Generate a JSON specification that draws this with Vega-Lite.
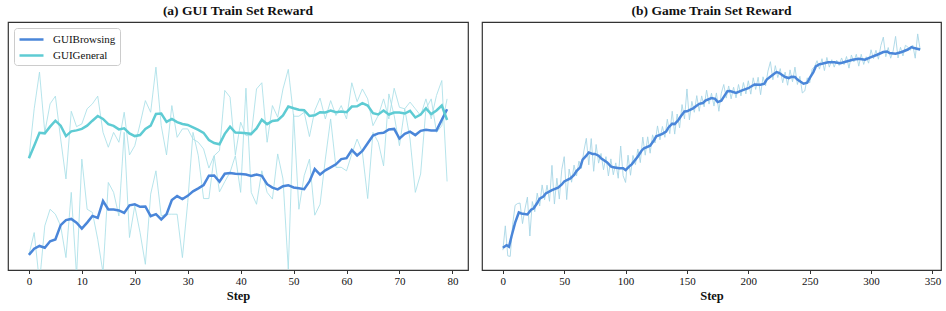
{
"$schema": "https://vega.github.io/schema/vega-lite/v6.json",
"padding": {"left": 7, "top": 2, "right": 8, "bottom": 0},
"spacing": 12,
"config": {
  "font": "Liberation Serif",
  "view": {"stroke": "#333333", "strokeWidth": 1.2},
  "axis": {"labelFont": "Liberation Serif", "labelFontSize": 11, "labelColor": "#111111", "tickColor": "#333333", "tickSize": 3.5, "domain": false, "grid": false, "labelPadding": 2, "titleFont": "Liberation Serif", "titleFontSize": 12.5, "titleFontWeight": "bold", "titleColor": "#111111", "titlePadding": 3},
  "title": {"font": "Liberation Serif", "fontSize": 13.5, "fontWeight": "bold", "color": "#111111", "offset": 5},
  "legend": {"labelFont": "Liberation Serif", "labelFontSize": 11, "labelColor": "#111111"}
},
"datasets": {
  "gui": [
{"step":0,"series":"GUIBrowsing","raw":6.1,"smooth":6.1},
{"step":1,"series":"GUIBrowsing","raw":15.1,"smooth":8.6},
{"step":2,"series":"GUIBrowsing","raw":-5.1,"smooth":9.7},
{"step":3,"series":"GUIBrowsing","raw":17.8,"smooth":9.0},
{"step":4,"series":"GUIBrowsing","raw":24.5,"smooth":11.6},
{"step":5,"series":"GUIBrowsing","raw":22.5,"smooth":12.3},
{"step":6,"series":"GUIBrowsing","raw":17.8,"smooth":18.1},
{"step":7,"series":"GUIBrowsing","raw":5.0,"smooth":20.1},
{"step":8,"series":"GUIBrowsing","raw":31.3,"smooth":20.6},
{"step":9,"series":"GUIBrowsing","raw":-2.4,"smooth":19.1},
{"step":10,"series":"GUIBrowsing","raw":44.7,"smooth":16.7},
{"step":11,"series":"GUIBrowsing","raw":24.5,"smooth":19.1},
{"step":12,"series":"GUIBrowsing","raw":23.2,"smooth":21.8},
{"step":13,"series":"GUIBrowsing","raw":12.4,"smooth":21.0},
{"step":14,"series":"GUIBrowsing","raw":-1.1,"smooth":27.8},
{"step":15,"series":"GUIBrowsing","raw":35.3,"smooth":24.4},
{"step":16,"series":"GUIBrowsing","raw":31.3,"smooth":24.4},
{"step":17,"series":"GUIBrowsing","raw":21.8,"smooth":24.0},
{"step":18,"series":"GUIBrowsing","raw":55.5,"smooth":23.0},
{"step":19,"series":"GUIBrowsing","raw":13.1,"smooth":26.1},
{"step":20,"series":"GUIBrowsing","raw":25.9,"smooth":26.5},
{"step":21,"series":"GUIBrowsing","raw":15.1,"smooth":25.5},
{"step":22,"series":"GUIBrowsing","raw":2.3,"smooth":25.6},
{"step":23,"series":"GUIBrowsing","raw":30.6,"smooth":21.7},
{"step":24,"series":"GUIBrowsing","raw":40.0,"smooth":22.5},
{"step":25,"series":"GUIBrowsing","raw":21.8,"smooth":20.4},
{"step":26,"series":"GUIBrowsing","raw":22.5,"smooth":22.5},
{"step":27,"series":"GUIBrowsing","raw":22.5,"smooth":28.2},
{"step":28,"series":"GUIBrowsing","raw":22.5,"smooth":29.8},
{"step":29,"series":"GUIBrowsing","raw":5.0,"smooth":28.6},
{"step":30,"series":"GUIBrowsing","raw":27.2,"smooth":29.9},
{"step":31,"series":"GUIBrowsing","raw":55.5,"smooth":31.7},
{"step":32,"series":"GUIBrowsing","raw":46.1,"smooth":32.9},
{"step":33,"series":"GUIBrowsing","raw":28.8,"smooth":34.2},
{"step":34,"series":"GUIBrowsing","raw":28.8,"smooth":38.0},
{"step":35,"series":"GUIBrowsing","raw":46.1,"smooth":38.1},
{"step":36,"series":"GUIBrowsing","raw":31.5,"smooth":35.6},
{"step":37,"series":"GUIBrowsing","raw":35.6,"smooth":38.8},
{"step":38,"series":"GUIBrowsing","raw":39.4,"smooth":39.1},
{"step":39,"series":"GUIBrowsing","raw":46.1,"smooth":38.8},
{"step":40,"series":"GUIBrowsing","raw":31.3,"smooth":38.7},
{"step":41,"series":"GUIBrowsing","raw":73.3,"smooth":38.5},
{"step":42,"series":"GUIBrowsing","raw":31.3,"smooth":37.9},
{"step":43,"series":"GUIBrowsing","raw":26.5,"smooth":38.5},
{"step":44,"series":"GUIBrowsing","raw":40.0,"smooth":38.0},
{"step":45,"series":"GUIBrowsing","raw":31.3,"smooth":34.6},
{"step":46,"series":"GUIBrowsing","raw":28.6,"smooth":33.2},
{"step":47,"series":"GUIBrowsing","raw":46.8,"smooth":32.5},
{"step":48,"series":"GUIBrowsing","raw":36.7,"smooth":33.8},
{"step":49,"series":"GUIBrowsing","raw":0.3,"smooth":34.2},
{"step":50,"series":"GUIBrowsing","raw":62.9,"smooth":33.3},
{"step":51,"series":"GUIBrowsing","raw":24.5,"smooth":33.0},
{"step":52,"series":"GUIBrowsing","raw":38.0,"smooth":32.6},
{"step":53,"series":"GUIBrowsing","raw":44.7,"smooth":35.7},
{"step":54,"series":"GUIBrowsing","raw":22.1,"smooth":40.7},
{"step":55,"series":"GUIBrowsing","raw":26.5,"smooth":38.5},
{"step":56,"series":"GUIBrowsing","raw":44.7,"smooth":40.2},
{"step":57,"series":"GUIBrowsing","raw":60.9,"smooth":41.4},
{"step":58,"series":"GUIBrowsing","raw":41.4,"smooth":42.6},
{"step":59,"series":"GUIBrowsing","raw":41.4,"smooth":44.7},
{"step":60,"series":"GUIBrowsing","raw":40.0,"smooth":45.1},
{"step":61,"series":"GUIBrowsing","raw":46.8,"smooth":48.4},
{"step":62,"series":"GUIBrowsing","raw":52.8,"smooth":46.2},
{"step":63,"series":"GUIBrowsing","raw":47.4,"smooth":48.0},
{"step":64,"series":"GUIBrowsing","raw":28.8,"smooth":51.1},
{"step":65,"series":"GUIBrowsing","raw":55.5,"smooth":54.2},
{"step":66,"series":"GUIBrowsing","raw":51.5,"smooth":55.1},
{"step":67,"series":"GUIBrowsing","raw":42.0,"smooth":55.3},
{"step":68,"series":"GUIBrowsing","raw":71.0,"smooth":56.7},
{"step":69,"series":"GUIBrowsing","raw":62.3,"smooth":56.9},
{"step":70,"series":"GUIBrowsing","raw":50.1,"smooth":53.0},
{"step":71,"series":"GUIBrowsing","raw":65.0,"smooth":54.9},
{"step":72,"series":"GUIBrowsing","raw":52.8,"smooth":55.8},
{"step":73,"series":"GUIBrowsing","raw":31.3,"smooth":54.4},
{"step":74,"series":"GUIBrowsing","raw":38.7,"smooth":56.1},
{"step":75,"series":"GUIBrowsing","raw":65.0,"smooth":56.5},
{"step":76,"series":"GUIBrowsing","raw":69.0,"smooth":56.3},
{"step":77,"series":"GUIBrowsing","raw":55.5,"smooth":56.3},
{"step":78,"series":"GUIBrowsing","raw":58.2,"smooth":60.6},
{"step":79,"series":"GUIBrowsing","raw":69.0,"smooth":64.8},
{"step":0,"series":"GUIGeneral","raw":45.1,"smooth":45.1},
{"step":1,"series":"GUIGeneral","raw":65.0,"smooth":50.1},
{"step":2,"series":"GUIGeneral","raw":79.8,"smooth":55.3},
{"step":3,"series":"GUIGeneral","raw":55.5,"smooth":55.1},
{"step":4,"series":"GUIGeneral","raw":67.0,"smooth":57.8},
{"step":5,"series":"GUIGeneral","raw":70.1,"smooth":60.2},
{"step":6,"series":"GUIGeneral","raw":52.8,"smooth":58.2},
{"step":7,"series":"GUIGeneral","raw":36.7,"smooth":54.0},
{"step":8,"series":"GUIGeneral","raw":64.0,"smooth":55.9},
{"step":9,"series":"GUIGeneral","raw":57.8,"smooth":56.3},
{"step":10,"series":"GUIGeneral","raw":58.9,"smooth":56.9},
{"step":11,"series":"GUIGeneral","raw":65.0,"smooth":58.2},
{"step":12,"series":"GUIGeneral","raw":67.0,"smooth":60.2},
{"step":13,"series":"GUIGeneral","raw":70.1,"smooth":62.1},
{"step":14,"series":"GUIGeneral","raw":55.5,"smooth":60.9},
{"step":15,"series":"GUIGeneral","raw":49.5,"smooth":58.8},
{"step":16,"series":"GUIGeneral","raw":55.5,"smooth":58.1},
{"step":17,"series":"GUIGeneral","raw":51.5,"smooth":56.7},
{"step":18,"series":"GUIGeneral","raw":63.6,"smooth":57.1},
{"step":19,"series":"GUIGeneral","raw":46.4,"smooth":55.1},
{"step":20,"series":"GUIGeneral","raw":50.1,"smooth":54.0},
{"step":21,"series":"GUIGeneral","raw":58.9,"smooth":54.4},
{"step":22,"series":"GUIGeneral","raw":68.3,"smooth":56.9},
{"step":23,"series":"GUIGeneral","raw":63.6,"smooth":58.2},
{"step":24,"series":"GUIGeneral","raw":81.8,"smooth":62.9},
{"step":25,"series":"GUIGeneral","raw":58.2,"smooth":63.1},
{"step":26,"series":"GUIGeneral","raw":46.4,"smooth":59.7},
{"step":27,"series":"GUIGeneral","raw":66.3,"smooth":60.9},
{"step":28,"series":"GUIGeneral","raw":53.5,"smooth":59.6},
{"step":29,"series":"GUIGeneral","raw":56.9,"smooth":58.9},
{"step":30,"series":"GUIGeneral","raw":56.9,"smooth":58.5},
{"step":31,"series":"GUIGeneral","raw":52.8,"smooth":57.5},
{"step":32,"series":"GUIGeneral","raw":51.5,"smooth":56.5},
{"step":33,"series":"GUIGeneral","raw":48.8,"smooth":55.3},
{"step":34,"series":"GUIGeneral","raw":41.1,"smooth":52.4},
{"step":35,"series":"GUIGeneral","raw":46.1,"smooth":51.2},
{"step":36,"series":"GUIGeneral","raw":48.1,"smooth":50.7},
{"step":37,"series":"GUIGeneral","raw":72.4,"smooth":54.9},
{"step":38,"series":"GUIGeneral","raw":69.7,"smooth":57.8},
{"step":39,"series":"GUIGeneral","raw":46.4,"smooth":55.4},
{"step":40,"series":"GUIGeneral","raw":59.6,"smooth":55.3},
{"step":41,"series":"GUIGeneral","raw":54.2,"smooth":55.1},
{"step":42,"series":"GUIGeneral","raw":54.2,"smooth":54.9},
{"step":43,"series":"GUIGeneral","raw":73.0,"smooth":57.1},
{"step":44,"series":"GUIGeneral","raw":75.5,"smooth":60.6},
{"step":45,"series":"GUIGeneral","raw":51.5,"smooth":58.8},
{"step":46,"series":"GUIGeneral","raw":66.3,"smooth":60.1},
{"step":47,"series":"GUIGeneral","raw":61.6,"smooth":60.4},
{"step":48,"series":"GUIGeneral","raw":73.0,"smooth":62.3},
{"step":49,"series":"GUIGeneral","raw":80.9,"smooth":65.9},
{"step":50,"series":"GUIGeneral","raw":62.0,"smooth":65.2},
{"step":51,"series":"GUIGeneral","raw":62.0,"smooth":64.6},
{"step":52,"series":"GUIGeneral","raw":63.6,"smooth":64.4},
{"step":53,"series":"GUIGeneral","raw":53.8,"smooth":62.1},
{"step":54,"series":"GUIGeneral","raw":64.3,"smooth":62.4},
{"step":55,"series":"GUIGeneral","raw":69.3,"smooth":63.6},
{"step":56,"series":"GUIGeneral","raw":60.9,"smooth":63.5},
{"step":57,"series":"GUIGeneral","raw":68.3,"smooth":64.3},
{"step":58,"series":"GUIGeneral","raw":62.3,"smooth":63.6},
{"step":59,"series":"GUIGeneral","raw":66.3,"smooth":63.9},
{"step":60,"series":"GUIGeneral","raw":60.9,"smooth":63.6},
{"step":61,"series":"GUIGeneral","raw":75.5,"smooth":65.9},
{"step":62,"series":"GUIGeneral","raw":67.9,"smooth":66.0},
{"step":63,"series":"GUIGeneral","raw":73.0,"smooth":67.3},
{"step":64,"series":"GUIGeneral","raw":69.0,"smooth":66.3},
{"step":65,"series":"GUIGeneral","raw":58.2,"smooth":63.2},
{"step":66,"series":"GUIGeneral","raw":62.3,"smooth":62.7},
{"step":67,"series":"GUIGeneral","raw":69.0,"smooth":64.3},
{"step":68,"series":"GUIGeneral","raw":60.9,"smooth":62.7},
{"step":69,"series":"GUIGeneral","raw":73.3,"smooth":63.5},
{"step":70,"series":"GUIGeneral","raw":65.6,"smooth":63.5},
{"step":71,"series":"GUIGeneral","raw":65.0,"smooth":63.1},
{"step":72,"series":"GUIGeneral","raw":67.7,"smooth":64.2},
{"step":73,"series":"GUIGeneral","raw":65.0,"smooth":61.5},
{"step":74,"series":"GUIGeneral","raw":62.3,"smooth":62.7},
{"step":75,"series":"GUIGeneral","raw":69.0,"smooth":65.2},
{"step":76,"series":"GUIGeneral","raw":60.9,"smooth":62.9},
{"step":77,"series":"GUIGeneral","raw":70.4,"smooth":64.3},
{"step":78,"series":"GUIGeneral","raw":76.4,"smooth":66.3},
{"step":79,"series":"GUIGeneral","raw":35.7,"smooth":60.5}
  ],
  "game_smooth": [
{"step":0,"smooth":9.0},{"step":3,"smooth":10.0},{"step":5,"smooth":9.4},{"step":7,"smooth":13.5},{"step":10,"smooth":19.1},
{"step":13,"smooth":23.2},{"step":15,"smooth":22.8},{"step":20,"smooth":22.4},{"step":23,"smooth":24.3},{"step":25,"smooth":24.8},
{"step":28,"smooth":27.0},{"step":30,"smooth":28.8},{"step":33,"smooth":29.6},{"step":35,"smooth":30.9},{"step":40,"smooth":32.2},
{"step":45,"smooth":33.2},{"step":48,"smooth":34.5},{"step":50,"smooth":35.7},{"step":55,"smooth":36.9},{"step":58,"smooth":38.3},
{"step":60,"smooth":39.9},{"step":63,"smooth":41.4},{"step":65,"smooth":44.5},{"step":68,"smooth":46.1},{"step":70,"smooth":47.4},
{"step":73,"smooth":46.8},{"step":75,"smooth":46.8},{"step":78,"smooth":46.1},{"step":80,"smooth":45.0},{"step":85,"smooth":43.4},
{"step":88,"smooth":41.8},{"step":90,"smooth":41.4},{"step":95,"smooth":41.0},{"step":98,"smooth":41.0},{"step":100,"smooth":40.3},
{"step":103,"smooth":41.8},{"step":105,"smooth":42.6},{"step":110,"smooth":45.8},{"step":113,"smooth":48.1},{"step":115,"smooth":49.1},
{"step":120,"smooth":50.1},{"step":123,"smooth":52.2},{"step":125,"smooth":53.9},{"step":130,"smooth":54.9},{"step":133,"smooth":55.8},
{"step":135,"smooth":57.5},{"step":138,"smooth":59.0},{"step":140,"smooth":58.8},{"step":143,"smooth":60.5},{"step":145,"smooth":62.0},
{"step":148,"smooth":63.9},{"step":150,"smooth":64.0},{"step":155,"smooth":65.2},{"step":160,"smooth":67.0},{"step":163,"smooth":67.3},
{"step":165,"smooth":68.3},{"step":170,"smooth":69.3},{"step":173,"smooth":69.0},{"step":175,"smooth":67.7},{"step":178,"smooth":68.3},
{"step":180,"smooth":69.8},{"step":183,"smooth":72.1},{"step":185,"smooth":72.2},{"step":190,"smooth":71.4},{"step":195,"smooth":72.4},
{"step":200,"smooth":73.3},{"step":205,"smooth":74.8},{"step":210,"smooth":74.7},{"step":213,"smooth":75.1},{"step":215,"smooth":76.8},
{"step":220,"smooth":78.7},{"step":223,"smooth":79.8},{"step":225,"smooth":79.5},{"step":230,"smooth":77.8},{"step":233,"smooth":77.4},
{"step":235,"smooth":77.9},{"step":238,"smooth":77.8},{"step":240,"smooth":76.8},{"step":245,"smooth":75.1},{"step":248,"smooth":75.5},
{"step":250,"smooth":77.4},{"step":253,"smooth":79.8},{"step":255,"smooth":82.1},{"step":258,"smooth":83.0},{"step":260,"smooth":83.2},
{"step":265,"smooth":83.8},{"step":270,"smooth":83.8},{"step":275,"smooth":83.4},{"step":280,"smooth":84.1},{"step":285,"smooth":84.8},
{"step":290,"smooth":85.2},{"step":295,"smooth":84.8},{"step":300,"smooth":85.8},{"step":305,"smooth":86.8},{"step":310,"smooth":87.9},
{"step":313,"smooth":88.1},{"step":315,"smooth":87.5},{"step":320,"smooth":87.2},{"step":325,"smooth":87.9},{"step":330,"smooth":88.9},
{"step":333,"smooth":89.9},{"step":335,"smooth":89.5},{"step":340,"smooth":88.9}
  ],
  "game_raw": [
{"step":0,"raw":8.0},{"step":2,"raw":17.8},{"step":4,"raw":5.7},{"step":6,"raw":5.5},{"step":8,"raw":18.4},{"step":10,"raw":26.1},
{"step":12,"raw":26.8},{"step":14,"raw":27.0},{"step":16,"raw":18.7},{"step":18,"raw":24.6},{"step":20,"raw":29.4},{"step":22,"raw":13.7},
{"step":24,"raw":27.6},{"step":26,"raw":23.5},{"step":28,"raw":31.0},{"step":30,"raw":25.8},{"step":32,"raw":34.3},{"step":34,"raw":28.3},
{"step":36,"raw":34.2},{"step":38,"raw":27.7},{"step":40,"raw":42.2},{"step":42,"raw":26.6},{"step":44,"raw":37.0},{"step":46,"raw":28.6},
{"step":48,"raw":40.5},{"step":50,"raw":45.7},{"step":52,"raw":28.4},{"step":54,"raw":40.7},{"step":56,"raw":35.4},{"step":58,"raw":42.3},
{"step":60,"raw":37.9},{"step":62,"raw":43.9},{"step":64,"raw":41.0},{"step":66,"raw":48.0},{"step":68,"raw":53.1},{"step":70,"raw":42.4},
{"step":72,"raw":53.0},{"step":74,"raw":39.8},{"step":76,"raw":50.6},{"step":78,"raw":43.1},{"step":80,"raw":47.0},{"step":82,"raw":40.4},
{"step":84,"raw":45.7},{"step":86,"raw":37.9},{"step":88,"raw":44.8},{"step":90,"raw":38.4},{"step":92,"raw":43.2},{"step":94,"raw":37.0},
{"step":96,"raw":50.0},{"step":98,"raw":38.0},{"step":100,"raw":35.3},{"step":102,"raw":46.3},{"step":104,"raw":38.2},{"step":106,"raw":46.2},
{"step":108,"raw":42.5},{"step":110,"raw":48.8},{"step":112,"raw":43.3},{"step":114,"raw":53.6},{"step":116,"raw":46.3},{"step":118,"raw":53.7},
{"step":120,"raw":47.1},{"step":122,"raw":54.5},{"step":124,"raw":51.2},{"step":126,"raw":58.1},{"step":128,"raw":52.5},{"step":130,"raw":57.9},
{"step":132,"raw":53.5},{"step":134,"raw":60.8},{"step":136,"raw":55.0},{"step":138,"raw":64.0},{"step":140,"raw":54.8},{"step":142,"raw":62.9},
{"step":144,"raw":57.3},{"step":146,"raw":66.7},{"step":148,"raw":60.9},{"step":150,"raw":73.0},{"step":152,"raw":60.5},{"step":154,"raw":68.0},
{"step":156,"raw":63.6},{"step":158,"raw":70.3},{"step":160,"raw":64.0},{"step":162,"raw":70.2},{"step":164,"raw":65.8},{"step":166,"raw":72.5},
{"step":168,"raw":66.9},{"step":170,"raw":71.3},{"step":172,"raw":66.1},{"step":174,"raw":71.4},{"step":176,"raw":64.0},{"step":178,"raw":71.3},
{"step":180,"raw":74.8},{"step":182,"raw":69.3},{"step":184,"raw":74.2},{"step":186,"raw":69.0},{"step":188,"raw":73.7},{"step":190,"raw":69.4},
{"step":192,"raw":74.8},{"step":194,"raw":70.2},{"step":196,"raw":75.6},{"step":198,"raw":71.0},{"step":200,"raw":76.3},{"step":202,"raw":70.9},
{"step":204,"raw":77.5},{"step":206,"raw":72.8},{"step":208,"raw":77.7},{"step":210,"raw":70.7},{"step":212,"raw":77.9},{"step":214,"raw":74.2},
{"step":216,"raw":80.2},{"step":218,"raw":84.0},{"step":220,"raw":76.7},{"step":222,"raw":82.4},{"step":224,"raw":77.6},{"step":226,"raw":81.2},
{"step":228,"raw":75.5},{"step":230,"raw":79.8},{"step":232,"raw":74.5},{"step":234,"raw":80.7},{"step":236,"raw":75.9},{"step":238,"raw":81.8},
{"step":240,"raw":74.8},{"step":242,"raw":78.1},{"step":244,"raw":71.4},{"step":246,"raw":72.2},{"step":248,"raw":77.5},{"step":250,"raw":75.4},
{"step":252,"raw":81.0},{"step":254,"raw":82.0},{"step":256,"raw":84.4},{"step":258,"raw":81.0},{"step":260,"raw":85.2},{"step":262,"raw":80.4},
{"step":264,"raw":85.7},{"step":266,"raw":81.8},{"step":268,"raw":84.8},{"step":270,"raw":81.8},{"step":272,"raw":84.6},{"step":274,"raw":82.5},
{"step":276,"raw":85.5},{"step":278,"raw":82.8},{"step":280,"raw":86.1},{"step":282,"raw":81.4},{"step":284,"raw":86.7},{"step":286,"raw":83.9},
{"step":288,"raw":87.0},{"step":290,"raw":82.2},{"step":292,"raw":87.0},{"step":294,"raw":82.9},{"step":296,"raw":86.0},{"step":298,"raw":83.4},
{"step":300,"raw":88.8},{"step":302,"raw":85.2},{"step":304,"raw":88.6},{"step":306,"raw":85.0},{"step":308,"raw":90.5},{"step":310,"raw":93.9},
{"step":312,"raw":86.0},{"step":314,"raw":89.7},{"step":316,"raw":85.4},{"step":318,"raw":88.3},{"step":320,"raw":94.2},{"step":322,"raw":85.5},
{"step":324,"raw":89.8},{"step":326,"raw":86.3},{"step":328,"raw":90.6},{"step":330,"raw":89.9},{"step":332,"raw":88.6},{"step":334,"raw":90.7},
{"step":336,"raw":85.4},{"step":338,"raw":95.2},{"step":340,"raw":88.9}
  ]
},
"hconcat": [
  {
    "width": 460, "height": 248,
    "title": "(a) GUI Train Set Reward",
    "data": {"name": "gui"},
    "layer": [
      {
        "mark": {"type": "line", "color": "#a9dfe8", "strokeWidth": 1, "opacity": 0.85, "clip": true},
        "encoding": {
          "x": {"field": "step", "type": "quantitative", "scale": {"domain": [-3.95, 82.95], "nice": false, "zero": false}, "axis": {"values": [0,10,20,30,40,50,60,70,80], "title": "Step"}},
          "y": {"field": "raw", "type": "quantitative", "scale": {"domain": [0, 100], "nice": false, "zero": false}, "axis": null},
          "detail": {"field": "series", "type": "nominal"}
        }
      },
      {
        "mark": {"type": "line", "strokeWidth": 2.5, "clip": true},
        "encoding": {
          "x": {"field": "step", "type": "quantitative", "scale": {"domain": [-3.95, 82.95], "nice": false, "zero": false}},
          "y": {"field": "smooth", "type": "quantitative", "scale": {"domain": [0, 100], "nice": false, "zero": false}, "axis": null},
          "color": {"field": "series", "type": "nominal", "scale": {"domain": ["GUIBrowsing", "GUIGeneral"], "range": ["#4a86d9", "#5ecbd3"]},
            "legend": {"orient": "top-left", "title": null, "offset": 5.5, "symbolType": "M-1,0H3", "symbolStrokeWidth": 2.5, "symbolSize": 144, "labelOffset": 20, "padding": 4, "rowPadding": 3, "strokeColor": "#cccccc", "fillColor": "#ffffff", "cornerRadius": 3}}
        }
      }
    ]
  },
  {
    "width": 459, "height": 248,
    "title": "(b) Game Train Set Reward",
    "layer": [
      {
        "data": {"name": "game_raw"},
        "mark": {"type": "line", "color": "#a8d6e6", "strokeWidth": 1, "opacity": 0.9, "clip": true},
        "encoding": {
          "x": {"field": "step", "type": "quantitative", "scale": {"domain": [-17, 357], "nice": false, "zero": false}, "axis": {"values": [0,50,100,150,200,250,300,350], "title": "Step"}},
          "y": {"field": "raw", "type": "quantitative", "scale": {"domain": [0, 100], "nice": false, "zero": false}, "axis": null}
        }
      },
      {
        "data": {"name": "game_smooth"},
        "mark": {"type": "line", "color": "#4a86d9", "strokeWidth": 2.5, "clip": true},
        "encoding": {
          "x": {"field": "step", "type": "quantitative", "scale": {"domain": [-17, 357], "nice": false, "zero": false}},
          "y": {"field": "smooth", "type": "quantitative", "scale": {"domain": [0, 100], "nice": false, "zero": false}, "axis": null}
        }
      }
    ]
  }
]
}
